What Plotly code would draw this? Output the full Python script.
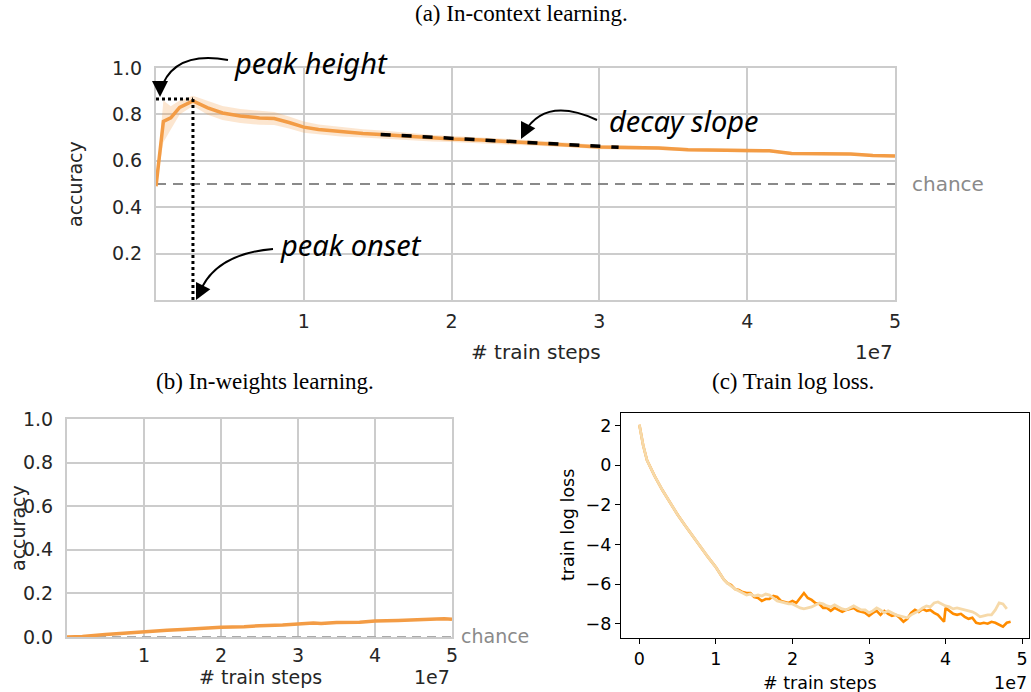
import numpy as np
import plotly.graph_objects as go

W, H = 1031, 692

# ---------------- data ----------------
# (a) in-context learning accuracy (steps in units of 1e7)
icl_steps = [0, 0.05, 0.1, 0.16, 0.25, 0.35, 0.45, 0.57, 0.7, 0.8, 0.9, 1.0, 1.1, 1.25, 1.4,
             1.55, 1.7, 1.87, 2.0, 2.2, 2.4, 2.6, 2.8, 3.0, 3.2, 3.4, 3.6, 3.8, 4.0, 4.15,
             4.3, 4.5, 4.7, 4.85, 5.0]
icl_acc = [0.49, 0.77, 0.785, 0.83, 0.858, 0.828, 0.806, 0.793, 0.785, 0.782, 0.765, 0.745,
           0.735, 0.725, 0.718, 0.712, 0.705, 0.697, 0.694, 0.69, 0.682, 0.675, 0.668, 0.659,
           0.657, 0.655, 0.648, 0.646, 0.643, 0.643, 0.632, 0.63, 0.629, 0.623, 0.621]
icl_err = [0.0, 0.09, 0.05, 0.03, 0.022, 0.03, 0.03, 0.03, 0.03, 0.028, 0.026, 0.024,
           0.022, 0.02, 0.018, 0.017, 0.015, 0.014, 0.013, 0.012, 0.012, 0.011, 0.01, 0.009,
           0.008, 0.008, 0.007, 0.007, 0.007, 0.006, 0.006, 0.006, 0.006, 0.006, 0.006]
chance_level = 0.5
decay_window = [1.52, 3.13]

# (b) in-weights learning accuracy
iwl_steps = [0, 0.2, 0.5, 0.8, 1.0, 1.3, 1.5, 1.7, 2.0, 2.3, 2.5, 2.8, 3.0, 3.2, 3.3, 3.5,
             3.8, 4.0, 4.3, 4.6, 4.8, 4.9, 5.0]
iwl_acc = [0.0, 0.002, 0.012, 0.02, 0.026, 0.031, 0.034, 0.04, 0.045, 0.047, 0.052, 0.055,
           0.06, 0.064, 0.062, 0.067, 0.068, 0.073, 0.076, 0.078, 0.083, 0.084, 0.081]
iwl_chance = 0.0

# (c) train log loss, two runs
loss_steps_dark = [0, 0.02, 0.05, 0.1, 0.2, 0.3, 0.4, 0.5, 0.6, 0.7, 0.8, 0.9, 1.0, 1.05, 1.1,
                   1.15, 1.2, 1.25, 1.3, 1.35, 1.4, 1.45, 1.5, 1.55, 1.6, 1.65, 1.7, 1.75, 1.8,
                   1.85, 1.9, 1.95, 2.0, 2.05, 2.1, 2.15, 2.2, 2.25, 2.3, 2.35, 2.4, 2.45, 2.5,
                   2.55, 2.6, 2.65, 2.7, 2.75, 2.8, 2.85, 2.9, 2.95, 3.0, 3.05, 3.1, 3.15, 3.2,
                   3.25, 3.3, 3.35, 3.4, 3.45, 3.5, 3.55, 3.6, 3.65, 3.7, 3.75, 3.8, 3.85, 3.9,
                   3.95, 3.98, 4.0, 4.05, 4.1, 4.15, 4.2, 4.25, 4.3, 4.35, 4.4, 4.45, 4.5, 4.55,
                   4.6, 4.65, 4.7, 4.75, 4.8, 4.85]
loss_dark = [2.05, 1.6, 1.0, 0.25, -0.55, -1.25, -1.9, -2.5, -3.05, -3.6, -4.1, -4.65, -5.15,
             -5.45, -5.75, -5.95, -6.05, -6.25, -6.3, -6.4, -6.45, -6.45, -6.65, -6.7, -6.85,
             -6.75, -6.75, -6.6, -6.65, -6.85, -6.9, -6.95, -6.85, -6.95, -6.7, -6.45, -6.7,
             -6.8, -6.95, -7.0, -7.2, -7.2, -7.35, -7.2, -7.3, -7.4, -7.3, -7.25, -7.2, -7.35,
             -7.4, -7.45, -7.6, -7.45, -7.35, -7.55, -7.35, -7.5, -7.6, -7.55, -7.7, -7.9,
             -7.75, -7.45, -7.3, -7.4, -7.25, -7.35, -7.3, -7.45, -7.55, -7.75, -7.9, -7.2,
             -7.35, -7.5, -7.55, -7.5, -7.65, -7.75, -7.7, -7.95, -8.0, -7.95, -8.0, -7.9,
             -7.95, -8.05, -8.15, -7.95, -7.9]
loss_steps_light = [0, 0.02, 0.05, 0.1, 0.2, 0.3, 0.4, 0.5, 0.6, 0.7, 0.8, 0.9, 1.0, 1.05, 1.1,
                    1.15, 1.2, 1.25, 1.3, 1.35, 1.4, 1.45, 1.5, 1.55, 1.6, 1.65, 1.7, 1.75, 1.8,
                    1.85, 1.9, 1.95, 2.0, 2.05, 2.1, 2.15, 2.2, 2.25, 2.3, 2.35, 2.4, 2.45, 2.5,
                    2.55, 2.6, 2.65, 2.7, 2.75, 2.8, 2.85, 2.9, 2.95, 3.0, 3.05, 3.1, 3.15, 3.2,
                    3.25, 3.3, 3.35, 3.4, 3.45, 3.5, 3.55, 3.6, 3.65, 3.7, 3.75, 3.8, 3.85, 3.9,
                    3.95, 4.0, 4.05, 4.1, 4.15, 4.2, 4.25, 4.3, 4.35, 4.4, 4.45, 4.5, 4.55, 4.6,
                    4.65, 4.7, 4.75, 4.8]
loss_light = [2.05, 1.6, 1.0, 0.25, -0.55, -1.25, -1.9, -2.5, -3.05, -3.6, -4.1, -4.65, -5.15,
              -5.45, -5.75, -5.95, -6.1, -6.25, -6.35, -6.45, -6.55, -6.5, -6.6, -6.55, -6.6,
              -6.5, -6.55, -6.7, -6.85, -6.9, -6.95, -7.0, -7.0, -7.1, -7.2, -7.25, -7.2,
              -7.15, -7.05, -6.95, -7.0, -7.1, -7.15, -7.05, -7.15, -7.25, -7.3, -7.2, -7.1,
              -7.2, -7.3, -7.3, -7.45, -7.35, -7.2, -7.3, -7.45, -7.35, -7.45, -7.55, -7.6,
              -7.65, -7.7, -7.55, -7.45, -7.35, -7.2, -7.1, -7.15, -6.95, -6.9, -7.0, -7.1,
              -7.15, -7.25, -7.2, -7.25, -7.3, -7.35, -7.4, -7.5, -7.65, -7.6, -7.55, -7.55,
              -7.3, -6.95, -7.0, -7.25]

x_ticks = [1, 2, 3, 4, 5]
x_ticks_c = [0, 1, 2, 3, 4, 5]
acc_ticks_a = [0.2, 0.4, 0.6, 0.8, 1.0]
acc_ticks_b = [0.0, 0.2, 0.4, 0.6, 0.8, 1.0]
loss_ticks = [-8, -6, -4, -2, 0, 2]

SCALE = 1e7

# ---------------- styling ----------------
ORANGE = "#F39C45"
BAND = "rgba(243,156,69,0.25)"
DARK_OR = "#FF8C00"
LIGHT_OR = "#F6D9A9"
GRID = "#cccccc"
TXT = "#262626"
SANS = "DejaVu Sans"
SERIF = "Liberation Serif"
HAND = "Noto Sans"


def X(px):
    return px / W


def Y(py):
    return 1 - py / H


def sc(v):
    return [s * SCALE for s in v]


fig = go.Figure()

# ---- (a) ----
xa = sc(icl_steps)
acc = np.array(icl_acc)
err = np.array(icl_err)
fig.add_trace(go.Scatter(x=xa + xa[::-1], y=list(acc + err) + list((acc - err)[::-1]),
                         fill="toself", fillcolor=BAND, line=dict(width=0), mode="lines",
                         hoverinfo="skip", xaxis="x", yaxis="y", showlegend=False))
fig.add_trace(go.Scatter(x=[0, 5 * SCALE], y=[chance_level, chance_level], mode="lines",
                         line=dict(color="#8a8a8a", width=2.2, dash="10px,7px"),
                         xaxis="x", yaxis="y", showlegend=False))
fig.add_trace(go.Scatter(x=xa, y=icl_acc, mode="lines", line=dict(color=ORANGE, width=3.5),
                         xaxis="x", yaxis="y", showlegend=False))
# peak markers (derived from data)
ip = int(np.argmax(acc))
px_, py_ = xa[ip], float(acc[ip]) + 0.008
fig.add_trace(go.Scatter(x=[0, px_], y=[py_, py_], mode="lines",
                         line=dict(color="black", width=3, dash="dot"),
                         xaxis="x", yaxis="y", showlegend=False))
fig.add_trace(go.Scatter(x=[px_, px_], y=[py_, 0], mode="lines",
                         line=dict(color="black", width=3, dash="dot"),
                         xaxis="x", yaxis="y", showlegend=False))
# decay slope: linear fit over window
st = np.array(icl_steps)
m = (st >= decay_window[0] - 0.05) & (st <= decay_window[1] + 0.05)
k, b0 = np.polyfit(st[m], acc[m], 1)
dx = np.array(decay_window)
fig.add_trace(go.Scatter(x=list(dx * SCALE), y=list(k * dx + b0 + 0.002), mode="lines",
                         line=dict(color="black", width=3.5, dash="10px,11px"),
                         xaxis="x", yaxis="y", showlegend=False))

# ---- (b) ----
fig.add_trace(go.Scatter(x=[0, 5 * SCALE], y=[iwl_chance, iwl_chance], mode="lines",
                         line=dict(color="#aaaaaa", width=2, dash="9px,6px"),
                         xaxis="x2", yaxis="y2", showlegend=False, cliponaxis=False))
fig.add_trace(go.Scatter(x=sc(iwl_steps), y=iwl_acc, mode="lines",
                         line=dict(color=ORANGE, width=3.5),
                         xaxis="x2", yaxis="y2", showlegend=False, cliponaxis=False))

# ---- (c) ----
fig.add_trace(go.Scatter(x=sc(loss_steps_dark), y=loss_dark, mode="lines",
                         line=dict(color=DARK_OR, width=2.6),
                         xaxis="x3", yaxis="y3", showlegend=False))
fig.add_trace(go.Scatter(x=sc(loss_steps_light), y=loss_light, mode="lines",
                         line=dict(color=LIGHT_OR, width=2.8),
                         xaxis="x3", yaxis="y3", showlegend=False))

seaborn_x = dict(showgrid=True, gridcolor=GRID, gridwidth=2, showline=True, linecolor=GRID,
                 linewidth=2, mirror=True, zeroline=False, ticks="",
                 automargin=False, tickfont=dict(family=SANS, size=19, color=TXT))
seaborn_y = dict(showgrid=True, gridcolor=GRID, gridwidth=1.6, showline=True, linecolor=GRID,
                 linewidth=2, mirror=True, zeroline=False, ticks="", ticklabelstandoff=8,
                 automargin=False, tickfont=dict(family=SANS, size=19, color=TXT))
mpl_axis = dict(showgrid=False, showline=True, linecolor="black", linewidth=1.3, mirror=True,
                zeroline=False, ticks="outside", ticklen=5, tickwidth=1.3, tickcolor="black",
                automargin=False, tickfont=dict(family=SANS, size=17.5, color="black"))

fig.update_layout(
    width=W, height=H, margin=dict(l=0, r=0, t=0, b=0, pad=0, autoexpand=False),
    paper_bgcolor="white", plot_bgcolor="white",
    xaxis=dict(domain=[X(156), X(895)], range=[0, 5 * SCALE], anchor="y", ticklabelstandoff=3,
               tickvals=sc(x_ticks), ticktext=[str(t) for t in x_ticks], **seaborn_x),
    yaxis=dict(domain=[Y(300), Y(68)], range=[0, 1], anchor="x",
               tickvals=acc_ticks_a, ticktext=[f"{t:.1f}" for t in acc_ticks_a], **seaborn_y),
    xaxis2=dict(domain=[X(67), X(452)], range=[0, 5 * SCALE], anchor="y2", ticklabelstandoff=0,
                tickvals=sc(x_ticks), ticktext=[str(t) for t in x_ticks], **seaborn_x),
    yaxis2=dict(domain=[Y(637), Y(419)], range=[0, 1], anchor="x2",
                tickvals=acc_ticks_b, ticktext=[f"{t:.1f}" for t in acc_ticks_b], **seaborn_y),
    xaxis3=dict(domain=[X(621), X(1029)], range=[-0.24 * SCALE, 5.09 * SCALE], anchor="y3",
                tickvals=sc(x_ticks_c), ticktext=[str(t) for t in x_ticks_c], **mpl_axis),
    yaxis3=dict(domain=[Y(638), Y(413)], range=[-8.72, 2.64], anchor="x3",
                tickvals=loss_ticks, ticktext=[str(t).replace("-", "\u2212") for t in loss_ticks],
                **mpl_axis),
)

ann = []


def txt(x, y, s, size=19, color=TXT, family=SANS, xanchor="center", angle=0):
    ann.append(dict(x=X(x), y=Y(y), xref="paper", yref="paper", text=s, showarrow=False,
                    xanchor=xanchor, yanchor="middle", textangle=angle,
                    font=dict(family=family, size=size, color=color)))


# titles
txt(521, 13, "(a) In-context learning.", size=23, family=SERIF, color="black")
txt(265, 381, "(b) In-weights learning.", size=23, family=SERIF, color="black")
txt(793, 381, "(c) Train log loss.", size=23, family=SERIF, color="black")
# axis labels (a)
txt(75, 184, "accuracy", angle=-90)
txt(536, 352, "# train steps", size=20)
txt(895, 352, "1e7", size=20, xanchor="right")
txt(910, 184, "chance", size=20, color="#8a8a8a", xanchor="left")
# axis labels (b)
txt(18, 528, "accuracy", angle=-90)
txt(260, 677, "# train steps")
txt(452, 677, "1e7", xanchor="right")
txt(459, 636, "chance", color="#8a8a8a", xanchor="left")
# axis labels (c)
txt(568, 525, "train log loss", size=17.5, color="black", angle=-90)
txt(820, 683, "# train steps", size=17.5, color="black")
txt(1029, 683, "1e7", size=17.5, color="black", xanchor="right")
# handwritten notes
txt(232, 62, "<i>peak height</i>", size=29, family=HAND, color="black", xanchor="left")
txt(278, 244, "<i>peak onset</i>", size=29, family=HAND, color="black", xanchor="left")
txt(607, 121, "<i>decay slope</i>", size=29, family=HAND, color="black", xanchor="left")

# curved arrows
shapes = []
arrows = [
    ((228, 60), (172, 50), (160, 92), (160, 97)),
    ((273, 249), (214, 254), (199, 294), (196, 300)),
    ((597, 120), (545, 96), (524, 133), (521, 139)),
]
for (sx, sy), (cx, cy), (ex, ey), (tx, ty) in arrows:
    path = f"M {X(sx)},{Y(sy)} Q {X(cx)},{Y(cy)} {X(ex)},{Y(ey)}"
    shapes.append(dict(type="path", path=path, xref="paper", yref="paper",
                       line=dict(color="black", width=2)))
    ann.append(dict(x=X(tx), y=Y(ty), xref="paper", yref="paper", text="", showarrow=True,
                    ax=(ex - tx) * 2.2, ay=(ey - ty) * 2.2, arrowhead=2, arrowsize=1.6,
                    arrowwidth=2, arrowcolor="black", standoff=0, startstandoff=0))

fig.update_layout(annotations=ann, shapes=shapes)
fig.write_html("out.html", config={"displayModeBar": False},
               post_script="document.body.style.margin='0';"
                           "document.body.style.overflow='hidden';")
